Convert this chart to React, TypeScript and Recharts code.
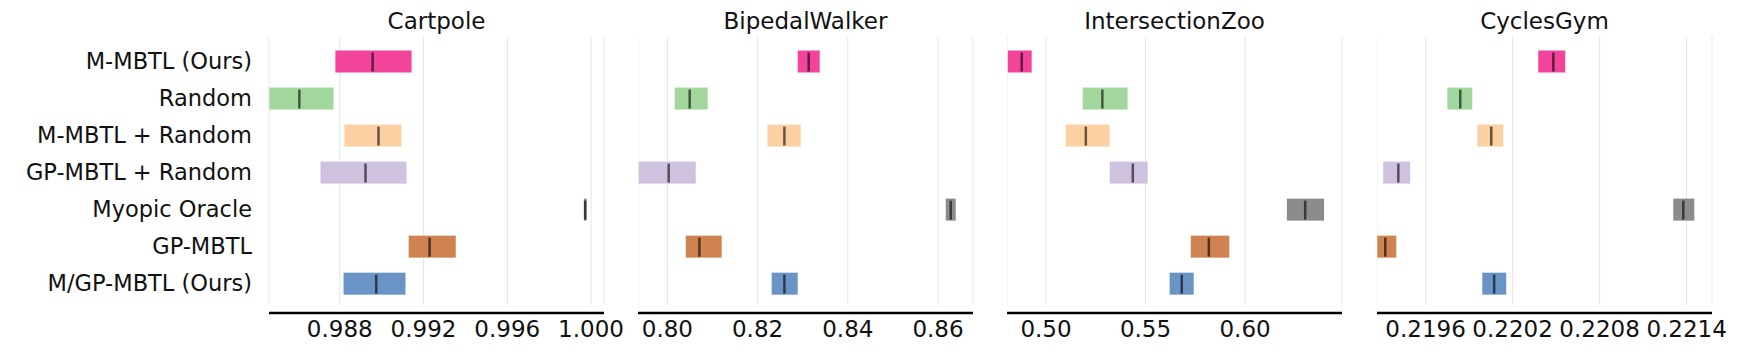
import React from 'react';
import { BarChart, Bar, XAxis, YAxis, CartesianGrid } from 'recharts';

const methods = [
  'M-MBTL (Ours)',
  'Random',
  'M-MBTL + Random',
  'GP-MBTL + Random',
  'Myopic Oracle',
  'GP-MBTL',
  'M/GP-MBTL (Ours)',
];

const colors = ['#f3449c', '#a1d79d', '#fcd0a3', '#cfc2df', '#8c8c8c', '#cf8351', '#6a93c6'];

// Cartpole
const cartpoleLow = [0.98779, 0.98464, 0.98822, 0.98708, 0.99966, 0.99129, 0.98818];
const cartpoleMed = [0.98957, 0.98607, 0.98985, 0.98923, 0.99972, 0.99229, 0.98974];
const cartpoleHigh = [0.99143, 0.9877, 0.99095, 0.99119, 0.99979, 0.99354, 0.99114];
const cartpoleTicks = [0.988, 0.992, 0.996, 1.0];

// BipedalWalker
const bipedalLow = [0.82889, 0.80162, 0.82217, 0.79364, 0.86171, 0.80406, 0.82312];
const bipedalMed = [0.83133, 0.80494, 0.82594, 0.80029, 0.86282, 0.80709, 0.82594];
const bipedalHigh = [0.83377, 0.80894, 0.82956, 0.80628, 0.86393, 0.81204, 0.82889];
const bipedalTicks = [0.8, 0.82, 0.84, 0.86];

// IntersectionZoo
const zooLow = [0.4808, 0.5184, 0.5099, 0.532, 0.621, 0.5727, 0.5621];
const zooMed = [0.4878, 0.5283, 0.52, 0.5436, 0.6302, 0.5818, 0.5682];
const zooHigh = [0.4928, 0.541, 0.532, 0.5511, 0.6397, 0.5921, 0.5742];
const zooTicks = [0.5, 0.55, 0.6];

// CyclesGym
const cyclesLow = [0.220377, 0.21975, 0.219957, 0.219308, 0.221308, 0.219267, 0.219991];
const cyclesMed = [0.220481, 0.219839, 0.220053, 0.219412, 0.221377, 0.219322, 0.220073];
const cyclesHigh = [0.220563, 0.219922, 0.220136, 0.219494, 0.221453, 0.219398, 0.220156];
const cyclesTicks = [0.2196, 0.2202, 0.2208, 0.2214];

const FONT = '"DejaVu Sans", sans-serif';

function buildRows(low: number[], med: number[], high: number[]) {
  return methods.map((name, i) => ({
    name,
    range: [low[i], high[i]],
    med: med[i],
    color: colors[i],
  }));
}

// bar rect + median tick
function RangeShape(props: any) {
  const { x, y, width, height, payload } = props;
  const [lo, hi] = payload.range;
  const mx = x + (width * (payload.med - lo)) / (hi - lo);
  return (
    <g>
      <rect x={x} y={y} width={Math.max(width, 1)} height={height} fill={payload.color} />
      <line x1={mx} x2={mx} y1={y + 2} y2={y + height - 1} stroke="#000" strokeOpacity={0.6} strokeWidth={2.5} />
    </g>
  );
}

interface PanelProps {
  title: string;
  left: number;
  rows: any[];
  domain: [number, number];
  ticks: number[];
  digits: number;
  showLabels?: boolean;
}

function Panel({ title, left, rows, domain, ticks, digits, showLabels }: PanelProps) {
  const yw = showLabels ? 269 : 0;
  const plotW = 335;
  const extra = 40;
  const width = yw + plotW + extra;
  return (
    <div style={{ position: 'absolute', left: left - yw, top: 0, width, height: 352 }}>
      <div
        style={{
          position: 'absolute',
          left: yw,
          width: plotW,
          top: 8,
          textAlign: 'center',
          fontSize: 23,
          fontFamily: FONT,
          color: '#111',
        }}
      >
        {title}
      </div>
      <BarChart
        width={width}
        height={352}
        data={rows}
        layout="vertical"
        margin={{ top: 37, right: extra, bottom: 0, left: 0 }}
      >
        <CartesianGrid horizontal={false} stroke="#e6e6e6" strokeWidth={1} y={37} height={268} />
        <XAxis
          type="number"
          domain={domain}
          allowDataOverflow
          ticks={ticks}
          interval={0}
          height={39}
          tickLine={false}
          axisLine={{ stroke: '#000', strokeWidth: 2.7 }}
          tick={{ fill: '#111', fontSize: 23, fontFamily: FONT }}
          tickFormatter={(v: number) => v.toFixed(digits)}
        />
        <YAxis
          type="category"
          dataKey="name"
          hide={!showLabels}
          width={yw}
          axisLine={false}
          tickLine={false}
          tickMargin={11}
          padding={{ top: 5.5, bottom: 11.3 }}
          tick={{ fill: '#111', fontSize: 22.5, fontFamily: FONT }}
          interval={0}
        />
        <Bar dataKey="range" barSize={22} isAnimationActive={false} shape={<RangeShape />} />
      </BarChart>
    </div>
  );
}

export default function App() {
  return (
    <div style={{ position: 'absolute', left: 0, top: 0, width: 1737, height: 352, background: '#fff', overflow: 'hidden' }}>
      <Panel
        title="Cartpole"
        left={269}
        rows={buildRows(cartpoleLow, cartpoleMed, cartpoleHigh)}
        domain={[0.98462, 1.00062]}
        ticks={cartpoleTicks}
        digits={3}
        showLabels
      />
      <Panel
        title="BipedalWalker"
        left={638}
        rows={buildRows(bipedalLow, bipedalMed, bipedalHigh)}
        domain={[0.79348, 0.86776]}
        ticks={bipedalTicks}
        digits={2}
      />
      <Panel
        title="IntersectionZoo"
        left={1007}
        rows={buildRows(zooLow, zooMed, zooHigh)}
        domain={[0.4804, 0.6487]}
        ticks={zooTicks}
        digits={2}
      />
      <Panel
        title="CyclesGym"
        left={1377}
        rows={buildRows(cyclesLow, cyclesMed, cyclesHigh)}
        domain={[0.219265, 0.221575]}
        ticks={cyclesTicks}
        digits={4}
      />
    </div>
  );
}
